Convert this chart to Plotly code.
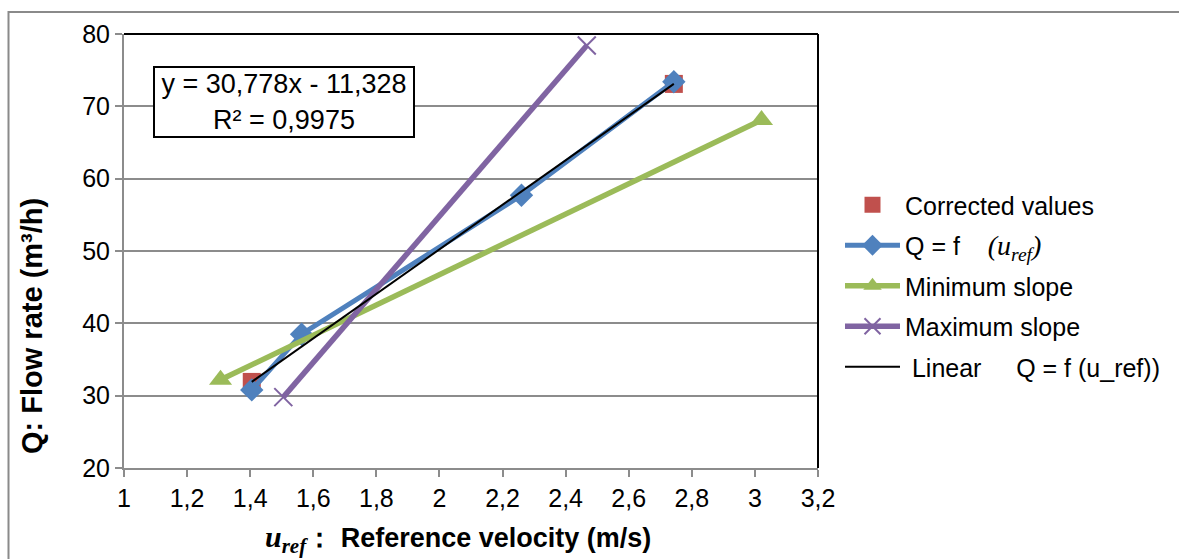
import plotly.graph_objects as go

# ---------------- data ----------------
corr_x = [1.405, 2.743]
corr_y = [31.9, 73.1]

q_x = [1.405, 1.563, 2.26, 2.743]
q_y = [30.8, 38.5, 57.7, 73.4]

min_x = [1.306, 3.021]
min_y = [32.2, 68.1]

max_x = [1.505, 2.467]
max_y = [29.8, 78.4]

slope = 30.778
intercept = -11.328
r2 = 0.9975

x_ticks = [1, 1.2, 1.4, 1.6, 1.8, 2, 2.2, 2.4, 2.6, 2.8, 3, 3.2]
x_tick_labels = ["1", "1,2", "1,4", "1,6", "1,8", "2", "2,2", "2,4", "2,6", "2,8", "3", "3,2"]
y_ticks = [20, 30, 40, 50, 60, 70, 80]

# ---------------- styling ----------------
FONT = "Liberation Sans, Arial, sans-serif"
FS = 25
RED = "#C0504D"
BLUE = "#4F81BD"
GREEN = "#9BBB59"
PURPLE = "#8064A2"
GRID = "#8C8C8C"

W, H = 1179, 559
ML, MR, MT, MB = 124, 361, 34, 91
PW, PH = W - ML - MR, H - MT - MB

def px_x(p):
    return (p - ML) / PW

def px_y(p):
    return (H - MB - p) / PH

fig = go.Figure()

fig.add_trace(go.Scatter(
    x=corr_x, y=corr_y, mode="markers", name="Corrected values", legendgroup="a",
    marker=dict(symbol="square", size=18, color=RED),
))
fig.add_trace(go.Scatter(
    x=q_x, y=q_y, mode="lines+markers", legendgroup="b",
    name="Q = f\u00a0\u00a0\u00a0\u00a0<span style='font-family:Liberation Serif;font-size:28px'><i>(u<sub>ref</sub>)</i></span>",
    line=dict(color=BLUE, width=5),
    marker=dict(symbol="diamond", size=18, color=BLUE),
))
fig.add_trace(go.Scatter(
    x=min_x, y=min_y, mode="lines+markers", name="Minimum slope", legendgroup="c",
    line=dict(color=GREEN, width=5.5),
    marker=dict(symbol="triangle-up", size=20, color=GREEN),
))
fig.add_trace(go.Scatter(
    x=max_x, y=max_y, mode="lines+markers", name="Maximum slope", legendgroup="d",
    line=dict(color=PURPLE, width=5.5),
    marker=dict(symbol="x-thin", size=18, color=PURPLE, line=dict(color=PURPLE, width=2)),
))
trend_x = [min(q_x), max(q_x)]
trend_y = [slope * v + intercept for v in trend_x]
fig.add_trace(go.Scatter(
    x=trend_x, y=trend_y, mode="lines", legendgroup="e",
    name="\u00a0Linear\u00a0\u00a0\u00a0\u00a0\u00a0Q = f (u_ref))",
    line=dict(color="black", width=2),
))

def fmt(v, d):
    return f"{abs(v):.{d}f}".replace(".", ",")

eq_text = f"y = {fmt(slope, 3)}x {'-' if intercept < 0 else '+'} {fmt(intercept, 3)}<br>R² = {fmt(r2, 4)}"

fig.add_annotation(
    x=px_x(284), y=px_y(102), xref="paper", yref="paper",
    text=eq_text, showarrow=False, align="center",
    font=dict(family=FONT, size=27, color="black"),
    bgcolor="white", bordercolor="black", borderwidth=2, borderpad=2,
    width=254, height=64,
    xanchor="center", yanchor="middle",
)

# axis titles
fig.add_annotation(
    x=px_x(458), y=px_y(539), xref="paper", yref="paper", showarrow=False,
    text="<b><span style='font-family:Liberation Serif;font-size:30px'><i>u<sub>ref</sub></i></span>：\u00a0Reference velocity (m/s)</b>",
    font=dict(family=FONT, size=27, color="black"), xanchor="center", yanchor="middle",
)
fig.add_annotation(
    x=px_x(32), y=px_y(326), xref="paper", yref="paper", showarrow=False,
    text="<b>Q: Flow rate (m³/h)</b>", textangle=-90,
    font=dict(family=FONT, size=29, color="black"), xanchor="center", yanchor="middle",
)

# plot-area top/right border (black)
fig.add_shape(type="line", xref="paper", yref="paper", x0=0, x1=1, y0=1, y1=1,
              line=dict(color="black", width=2))
fig.add_shape(type="line", xref="paper", yref="paper", x0=1, x1=1, y0=0, y1=1,
              line=dict(color="black", width=2))
# outer chart border
fig.add_shape(type="rect", xref="paper", yref="paper",
              x0=px_x(8.5), x1=px_x(1200), y0=px_y(580), y1=px_y(12),
              line=dict(color="#8A8A8A", width=2), layer="below")

fig.update_layout(
    width=W, height=H,
    margin=dict(l=ML, r=MR, t=MT, b=MB, pad=0),
    paper_bgcolor="white", plot_bgcolor="white",
    font=dict(family=FONT, size=FS, color="black"),
    separators=", ",
    showlegend=True,
    legend=dict(
        x=px_x(840), y=px_y(182), xanchor="left", yanchor="top",
        font=dict(family=FONT, size=FS, color="black"),
        bgcolor="rgba(0,0,0,0)", itemwidth=55, tracegroupgap=5,
    ),
    xaxis=dict(
        range=[1, 3.2], tickvals=x_ticks, ticktext=x_tick_labels,
        showgrid=False, zeroline=False,
        showline=True, linecolor=GRID, linewidth=2,
        ticks="outside", ticklen=7, tickcolor=GRID, tickwidth=2,
        tickfont=dict(family=FONT, size=FS, color="black"),
    ),
    yaxis=dict(
        range=[20, 80], tickvals=y_ticks,
        showgrid=True, gridcolor=GRID, gridwidth=2, zeroline=False,
        showline=True, linecolor=GRID, linewidth=2,
        ticks="outside", ticklen=7, tickcolor=GRID, tickwidth=2,
        tickfont=dict(family=FONT, size=FS, color="black"),
    ),
)

fig.write_html("out.html")
